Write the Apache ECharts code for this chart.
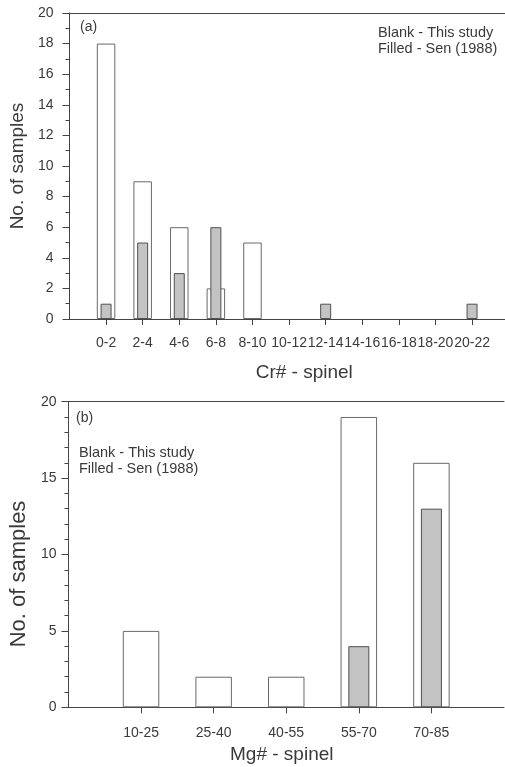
<!DOCTYPE html>
<html>
<head>
<meta charset="utf-8">
<script src="https://cdn.jsdelivr.net/npm/echarts@6/dist/echarts.min.js"></script>
<style>
html,body{margin:0;padding:0;background:#fff;}
#chart{width:505px;height:767px;}
</style>
</head>
<body>
<div id="chart"></div>
<script>
// ---- Data ----
const crCategories = ['0-2','2-4','4-6','6-8','8-10','10-12','12-14','14-16','16-18','18-20','20-22'];
const crThisStudy  = [18, 9, 6, 2, 5, 0, 0, 0, 0, 0, 0];
const crSen        = [1, 5, 3, 6, 0, 0, 1, 0, 0, 0, 1];

const mgCategories = ['10-25','25-40','40-55','55-70','70-85'];
const mgThisStudy  = [5, 2, 2, 19, 16];
const mgSen        = [0, 0, 0, 4, 13];

const legendLines = ['Blank - This study', 'Filled - Sen (1988)'];
// -------------

const FONT = '"Liberation Sans", Arial, sans-serif';
const TXT = '#3a3a3a';
const AX = '#444';

// zero counts have no visible bar
const toPts = arr => arr.map((v, i) => [i + 1, v]).filter(p => p[1] !== 0);
const crPos = crCategories.map((c, i) => i + 1);
const mgPos = mgCategories.map((c, i) => i + 1);

const chart = echarts.init(document.getElementById('chart'), null, {renderer: 'canvas'});

const baseX = (gridIndex, cats, pos, max, name, gap, namePad, labelMargin) => ({
  type: 'value', gridIndex, min: 0, max, position: 'bottom',
  splitLine: {show: false},
  axisLine: {show: true, onZero: false, lineStyle: {color: AX, width: 1}},
  axisTick: {show: true, length: 6, customValues: pos, lineStyle: {color: AX}},
  axisLabel: {
    show: true, customValues: pos, margin: labelMargin,
    formatter: v => cats[Math.round(v) - 1] || '',
    fontFamily: FONT, fontSize: 14, color: TXT
  },
  name, nameLocation: 'middle', nameGap: gap,
  nameTextStyle: {fontFamily: FONT, fontSize: 19, color: TXT, padding: namePad}
});

const topX = (gridIndex, max) => ({
  type: 'value', gridIndex, min: 0, max, position: 'top',
  splitLine: {show: false},
  axisLine: {show: true, onZero: false, lineStyle: {color: AX, width: 1}},
  axisTick: {show: false}, axisLabel: {show: false}
});

const leftY = (gridIndex, interval, minorSplit, name, nameFont, gap, namePad, labelMargin) => ({
  type: 'value', gridIndex, min: 0, max: 20, interval, position: 'left',
  splitLine: {show: false},
  axisLine: {show: true, lineStyle: {color: AX, width: 1}},
  axisTick: {show: true, length: 7, lineStyle: {color: AX}},
  minorTick: {show: true, splitNumber: minorSplit, length: 4, lineStyle: {color: AX}},
  minorSplitLine: {show: false},
  axisLabel: {fontFamily: FONT, fontSize: 14, color: TXT, margin: labelMargin},
  name, nameLocation: 'middle', nameGap: gap, nameRotate: 90,
  nameTextStyle: {fontFamily: FONT, fontSize: nameFont, color: TXT, padding: namePad}
});

const whiteStyle = {color: '#ffffff', borderColor: '#6a6a6a', borderWidth: 1};
const grayStyle = {color: '#c3c3c3', borderColor: '#505050', borderWidth: 1};

const option = {
  backgroundColor: '#ffffff',
  animation: false,
  grid: [
    {left: 69, right: 0, top: 13, bottom: 448, containLabel: false},
    {left: 65, right: 1, top: 401.7, bottom: 59.7, containLabel: false}
  ],
  xAxis: [
    baseX(0, crCategories, crPos, 11.9, 'Cr# - spinel', 44, [0, 0, 0, 34], 17),
    topX(0, 11.9),
    baseX(1, mgCategories, mgPos, 6, 'Mg# - spinel', 38, [0, 9, 0, 0], 19),
    topX(1, 6)
  ],
  yAxis: [
    leftY(0, 2, 2, 'No. of samples', 19, 40, [0, 0, 0, 0], 16),
    leftY(1, 5, 5, 'No. of samples', 22, 35, [0, 39, 0, 0], 12),
    {
      type: 'value', gridIndex: 1, min: 0, max: 20, position: 'right',
      splitLine: {show: false},
      axisLine: {show: true, lineStyle: {color: AX, width: 1}},
      axisTick: {show: false}, axisLabel: {show: false}
    }
  ],
  series: [
    {type: 'bar', name: 'This study', xAxisIndex: 0, yAxisIndex: 0, barWidth: 18.5,
      data: toPts(crThisStudy), itemStyle: whiteStyle},
    {type: 'bar', name: 'Sen (1988)', xAxisIndex: 1, yAxisIndex: 0, barWidth: 11,
      data: toPts(crSen), itemStyle: grayStyle},
    {type: 'bar', name: 'This study', xAxisIndex: 2, yAxisIndex: 1, barWidth: 36.5,
      data: toPts(mgThisStudy), itemStyle: whiteStyle},
    {type: 'bar', name: 'Sen (1988)', xAxisIndex: 3, yAxisIndex: 1, barWidth: 21,
      data: toPts(mgSen), itemStyle: grayStyle}
  ],
  graphic: [
    {type: 'text', left: 80, top: 20, style: {text: '(a)', font: '14px ' + FONT, fill: TXT}},
    {type: 'text', left: 378, top: 25, style: {text: legendLines.join('\n'), font: '14.5px ' + FONT, lineHeight: 16, fill: TXT}},
    {type: 'text', left: 76, top: 411, style: {text: '(b)', font: '14px ' + FONT, fill: TXT}},
    {type: 'text', left: 79, top: 445, style: {text: legendLines.join('\n'), font: '14.5px ' + FONT, lineHeight: 16, fill: TXT}}
  ]
};

chart.setOption(option);
</script>
</body>
</html>
